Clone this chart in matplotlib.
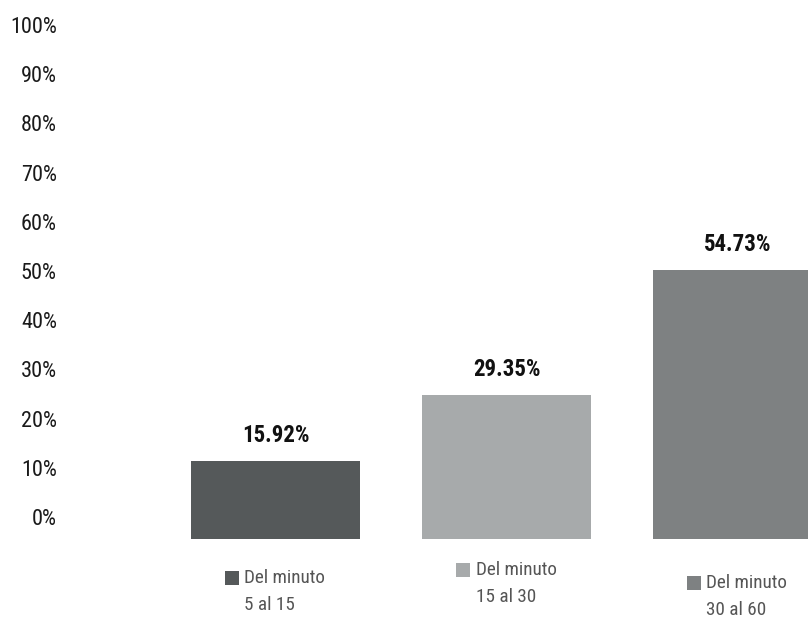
import matplotlib
matplotlib.use("Agg")
import matplotlib.pyplot as plt
from matplotlib import font_manager
from matplotlib.transforms import ScaledTranslation

# buscar una fuente estrecha; si no hay, Liberation Sans con tamaños menores
estrecha = None
for f in ['Liberation Sans Narrow', 'Arial Narrow', 'Roboto Condensed', 'DejaVu Sans Condensed']:
    try:
        font_manager.findfont(f, fallback_to_default=False)
        estrecha = f
        break
    except Exception:
        pass
if estrecha:
    plt.rcParams['font.family'] = [estrecha, 'DejaVu Sans']
    escala = 1.0
else:
    plt.rcParams['font.family'] = ['Liberation Sans', 'DejaVu Sans']
    escala = 0.86

categorias = [("Del minuto", "5 al 15"), ("Del minuto", "15 al 30"), ("Del minuto", "30 al 60")]
valores = [15.92, 29.35, 54.73]
etiquetas = ["15.92%", "29.35%", "54.73%"]
colores = ["#55595a", "#a7aaab", "#7e8182"]
ticks = [0, 10, 20, 30, 40, 50, 60, 70, 80, 90, 100]

fig = plt.figure(figsize=(8.08, 6.20), dpi=100)
ax = fig.add_axes([68/808, 0, 740/808, 1])

x = range(len(valores))
ax.bar(x, valores, width=169/231, color=colores)

# escala: 231 px entre barras, 4.92 px por punto porcentual, base en y=539 px
ax.set_xlim((68-275.5)/231, (808-275.5)/231)
ax.set_ylim(-81/4.92, 539/4.92)

ax.set_yticks(ticks)
ax.set_yticklabels([f"{t}%" for t in ticks])
ax.tick_params(axis='y', length=0, pad=8, labelsize=16*escala, labelcolor="#1a1a1a")
ax.tick_params(axis='x', bottom=False, labelbottom=False)
desp = ScaledTranslation(0, 0.22, fig.dpi_scale_trans)
for lab in ax.get_yticklabels():
    lab.set_transform(lab.get_transform() + desp)
for s in ax.spines.values():
    s.set_visible(False)

for i, v in enumerate(valores):
    ax.annotate(etiquetas[i], xy=(i, v), xytext=(0, 25), textcoords='offset pixels',
                ha='center', va='center', fontsize=16.5*escala, fontweight='bold', color="#111111")

# leyendas bajo cada barra (desfase vertical distinto en cada una)
bajada = [39, 31, 44]
for i, (l1, l2) in enumerate(categorias):
    off = ScaledTranslation(-44/100, -bajada[i]/100, fig.dpi_scale_trans)
    ax.plot([i], [0], marker='s', ms=10, mew=0, color=colores[i],
            transform=ax.transData + off, clip_on=False)
    ax.annotate(l1, xy=(i, 0), xytext=(-31, -bajada[i]), textcoords='offset pixels',
                ha='left', va='center', fontsize=13.8*escala, color="#555555")
    ax.annotate(l2, xy=(i, 0), xytext=(-31, -bajada[i]-27), textcoords='offset pixels',
                ha='left', va='center', fontsize=13.8*escala, color="#555555")

fig.savefig("out.png", dpi=100)
